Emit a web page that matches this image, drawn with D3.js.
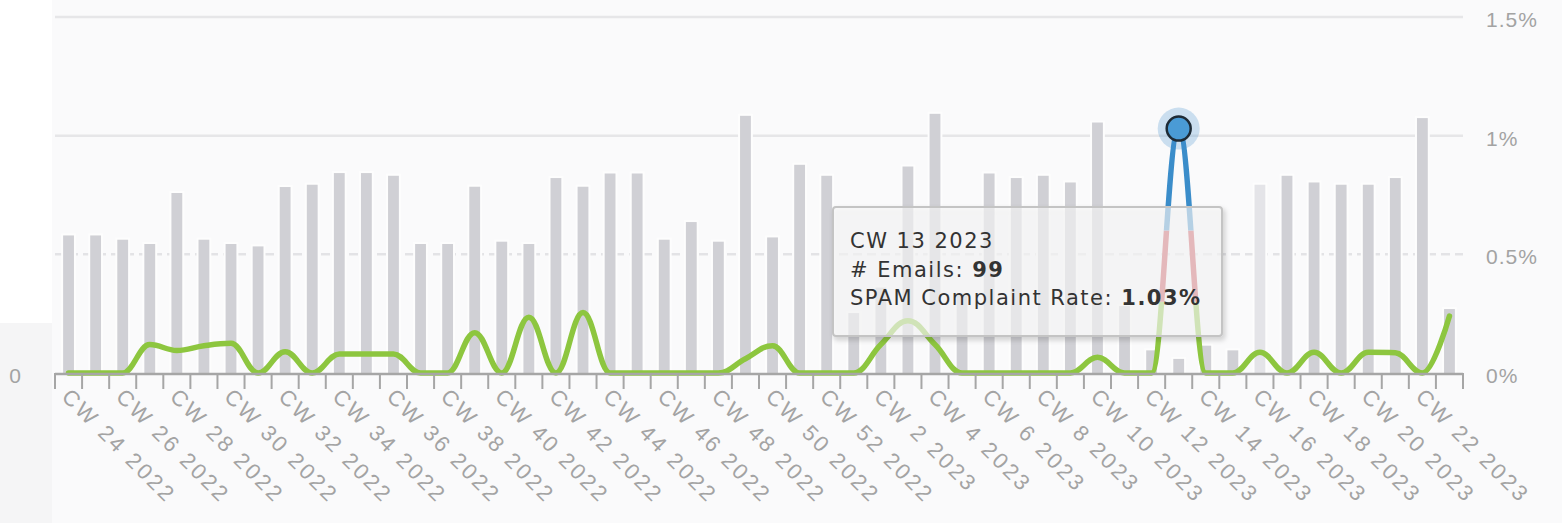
<!DOCTYPE html>
<html><head><meta charset="utf-8">
<script src="https://cdn.jsdelivr.net/npm/d3@7"></script>
<style>html,body{margin:0;padding:0;background:#fafafb;} svg{display:block}</style>
</head><body><svg id="c" width="1562" height="523"></svg>
<script>
const categories = [
 "CW 24 2022","CW 25 2022","CW 26 2022","CW 27 2022","CW 28 2022","CW 29 2022","CW 30 2022","CW 31 2022",
 "CW 32 2022","CW 33 2022","CW 34 2022","CW 35 2022","CW 36 2022","CW 37 2022","CW 38 2022","CW 39 2022",
 "CW 40 2022","CW 41 2022","CW 42 2022","CW 43 2022","CW 44 2022","CW 45 2022","CW 46 2022","CW 47 2022",
 "CW 48 2022","CW 49 2022","CW 50 2022","CW 51 2022","CW 52 2022",
 "CW 1 2023","CW 2 2023","CW 3 2023","CW 4 2023","CW 5 2023","CW 6 2023","CW 7 2023","CW 8 2023",
 "CW 9 2023","CW 10 2023","CW 11 2023","CW 12 2023","CW 13 2023","CW 14 2023","CW 15 2023","CW 16 2023",
 "CW 17 2023","CW 18 2023","CW 19 2023","CW 20 2023","CW 21 2023","CW 22 2023","CW 23 2023"];
const emails = [
 966, 966, 936, 906, 1264, 936, 906, 889,
 1306, 1322, 1404, 1404, 1385, 906, 906, 1308,
 922, 906, 1369, 1308, 1401, 1401, 936, 1060,
 922, 1806, 952, 1462, 1385,
 421, 600, 1450, 1820, 560, 1401, 1369, 1385,
 1338, 1759, 470, 159, 99, 192, 159, 1322,
 1385, 1338, 1322, 1322, 1369, 1790, 449];
const rates = [
 0, 0, 0, 0.12, 0.095, 0.115, 0.125, 0,
 0.09, 0, 0.08, 0.08, 0.08, 0, 0, 0.17,
 0, 0.235, 0, 0.255, 0, 0, 0, 0,
 0, 0.06, 0.115, 0, 0,
 0, 0.12, 0.22, 0.12, 0, 0, 0, 0,
 0, 0.066, 0, 0, 1.03, 0, 0, 0.087,
 0, 0.087, 0, 0.087, 0.085, 0, 0.24];
const rateTicks = [0, 0.5, 1, 1.5];
const rateTickLabels = ["0%", "0.5%", "1%", "1.5%"];
const emailTicks = [0];
const emailTickLabels = ["0"];
const emailMax = 2500;
const labelEvery = 2;
const zoneLimits = [0.3, 0.6];
const zoneColors = ["#8dc63f", "#c9424b", "#3b8dca"];
const hoverIndex = 41;
const fadedBarIndex = 44;
const tooltipTitle = "CW 13 2023";
const tooltipRows = [["# Emails: ", "99"], ["SPAM Complaint Rate: ", "1.03%"]];

(function(){
const svg = d3.select("#c");
const W = 1562, H = 523;
const pL = 55, pR = 1463, pT = 17, pB = 373;

svg.append("rect").attr("x",0).attr("y",0).attr("width",W).attr("height",H).attr("fill","#fafafb");
svg.append("rect").attr("x",0).attr("y",0).attr("width",52).attr("height",323).attr("fill","#ffffff");
svg.append("rect").attr("x",0).attr("y",323).attr("width",52).attr("height",200).attr("fill","#f5f5f6");

const x = d3.scaleBand().domain(categories).range([pL, pR]).paddingInner(0.6).paddingOuter(0.3);
const step = x.step(), bw = x.bandwidth();
const cx = c => x(c) + bw/2;
const yR = d3.scaleLinear().domain([0, 1.5]).range([pB, pT]);
const yE = d3.scaleLinear().domain([0, emailMax]).range([pB, pT]);

const grid = svg.append("g");
rateTicks.filter(t => t > 0).forEach(t => {
  grid.append("line").attr("x1", pL).attr("x2", pR).attr("y1", yR(t)).attr("y2", yR(t))
    .attr("stroke", t === 0.5 ? "#e3e3e6" : "#e6e6e8").attr("stroke-width", 2.5)
    .attr("stroke-dasharray", t === 0.5 ? "9,5" : null);
});

const bars = svg.append("g");
bars.selectAll(".halo").data(categories).join("rect")
  .attr("x", c => x(c) - 2).attr("width", bw + 4)
  .attr("y", (c,i) => yE(emails[i]) - 2).attr("height", (c,i) => pB - yE(emails[i]) + 2)
  .attr("fill", "#fdfdfd");
bars.selectAll(".bar").data(categories).join("rect")
  .attr("x", c => x(c)).attr("width", bw)
  .attr("y", (c,i) => yE(emails[i])).attr("height", (c,i) => pB - yE(emails[i]))
  .attr("fill", (c,i) => i === fadedBarIndex ? "#e4e4e8" : "#d0d0d5");

function hcSpline(pts){
  const s = 1.5, d = s + 1;
  const ctrl = pts.map(() => ({}));
  for (let i = 1; i < pts.length - 1; i++){
    const [px, py] = pts[i], last = pts[i-1], next = pts[i+1];
    let lcx = (s*px + last[0])/d, lcy = (s*py + last[1])/d, rcx = (s*px + next[0])/d, rcy = (s*py + next[1])/d;
    if (rcx !== lcx){
      const corr = ((rcy - lcy)*(rcx - px))/(rcx - lcx) + py - rcy;
      lcy += corr; rcy += corr;
      if (lcy > last[1] && lcy > py){ lcy = Math.max(last[1], py); rcy = 2*py - lcy; }
      else if (lcy < last[1] && lcy < py){ lcy = Math.min(last[1], py); rcy = 2*py - lcy; }
      if (rcy > next[1] && rcy > py){ rcy = Math.max(next[1], py); lcy = 2*py - rcy; }
      else if (rcy < next[1] && rcy < py){ rcy = Math.min(next[1], py); lcy = 2*py - rcy; }
    }
    ctrl[i] = {lcx, lcy, rcx, rcy};
  }
  let p = `M${pts[0][0]},${pts[0][1]}`;
  for (let i = 1; i < pts.length; i++){
    const a = pts[i-1], b = pts[i];
    const c1x = ctrl[i-1].rcx ?? a[0], c1y = ctrl[i-1].rcy ?? a[1];
    const c2x = ctrl[i].lcx ?? b[0], c2y = ctrl[i].lcy ?? b[1];
    p += `C${c1x},${c1y},${c2x},${c2y},${b[0]},${b[1]}`;
  }
  return p;
}
const pts = categories.map((c,i) => [cx(c), yR(rates[i])]);
const linePath = hcSpline(pts);

const defs = svg.append("defs");
const zb = [[yR(zoneLimits[0]), H], [yR(zoneLimits[1]), yR(zoneLimits[0])], [0, yR(zoneLimits[1])]];
zb.forEach((b, k) => {
  defs.append("clipPath").attr("id", "z"+k).append("rect")
    .attr("x", 0).attr("width", W).attr("y", b[0]).attr("height", b[1] - b[0]);
  svg.append("path").attr("d", linePath).attr("fill", "none")
    .attr("stroke", zoneColors[k]).attr("stroke-width", 5.5)
    .attr("stroke-linejoin", "round").attr("stroke-linecap", "round")
    .attr("clip-path", `url(#z${k})`);
});

const hx = cx(categories[hoverIndex]), hy = yR(rates[hoverIndex]);
svg.append("circle").attr("cx", hx).attr("cy", hy).attr("r", 21).attr("fill", "#3b8dca").attr("opacity", 0.25);
svg.append("circle").attr("cx", hx).attr("cy", hy).attr("r", 12).attr("fill", "#4a9bd5")
  .attr("stroke", "#1e2b36").attr("stroke-width", 2.5);

const axis = svg.append("g");
axis.append("line").attr("x1", pL).attr("x2", pR).attr("y1", pB + 1).attr("y2", pB + 1)
  .attr("stroke", "#a6a6a6").attr("stroke-width", 2.5);
const bounds = categories.map(c => cx(c) - step/2).concat([cx(categories[categories.length-1]) + step/2]);
axis.selectAll(".tick").data(bounds).join("line")
  .attr("x1", d => d).attr("x2", d => d).attr("y1", pB).attr("y2", pB + 16)
  .attr("stroke", "#a6a6a6").attr("stroke-width", 2);
axis.selectAll(".xl").data(categories.filter((c,i) => i % labelEvery === 0)).join("text")
  .attr("transform", c => `translate(${cx(c) - 8},${pB + 25}) rotate(45)`)
  .attr("font-family", "Liberation Sans, Arial, sans-serif").attr("font-size", 22)
  .attr("letter-spacing", 2.8).attr("fill", "#a3a3a3").text(c => c);

svg.selectAll(".rl").data(rateTicks).join("text")
  .attr("x", 1486).attr("y", t => yR(t) + 10)
  .attr("font-family", "Liberation Sans, Arial, sans-serif").attr("font-size", 21)
  .attr("letter-spacing", 1).attr("fill", "#a3a3a3").text((t,i) => rateTickLabels[i]);
svg.selectAll(".ll").data(emailTicks).join("text")
  .attr("x", 21).attr("y", t => yE(t) + 10).attr("text-anchor", "end")
  .attr("font-family", "Liberation Sans, Arial, sans-serif").attr("font-size", 21)
  .attr("fill", "#a3a3a3").text((t,i) => emailTickLabels[i]);

const flt = defs.append("filter").attr("id", "sh").attr("x", "-10%").attr("y", "-10%").attr("width", "130%").attr("height", "140%");
flt.append("feDropShadow").attr("dx", 2).attr("dy", 3).attr("stdDeviation", 2.5).attr("flood-color", "#000").attr("flood-opacity", 0.22);
const tt = svg.append("g");
tt.append("rect").attr("x", 833).attr("y", 207).attr("width", 389).attr("height", 129).attr("rx", 3)
  .attr("fill", "rgba(250,250,250,0.62)").attr("stroke", "#c4c4c4").attr("stroke-width", 2).attr("filter", "url(#sh)");
const tf = "DejaVu Sans, Verdana, sans-serif";
tt.append("text").attr("x", 850).attr("y", 248).attr("font-family", tf).attr("font-size", 21)
  .attr("letter-spacing", 1.5).attr("fill", "#333").text(tooltipTitle);
tooltipRows.forEach((r, k) => {
  const t = tt.append("text").attr("x", 850).attr("y", 277 + 28*k).attr("font-family", tf).attr("font-size", 21)
    .attr("letter-spacing", 1.5).attr("fill", "#333");
  t.append("tspan").text(r[0]);
  t.append("tspan").attr("font-weight", "bold").text(r[1]);
});
})();
</script></body></html>
